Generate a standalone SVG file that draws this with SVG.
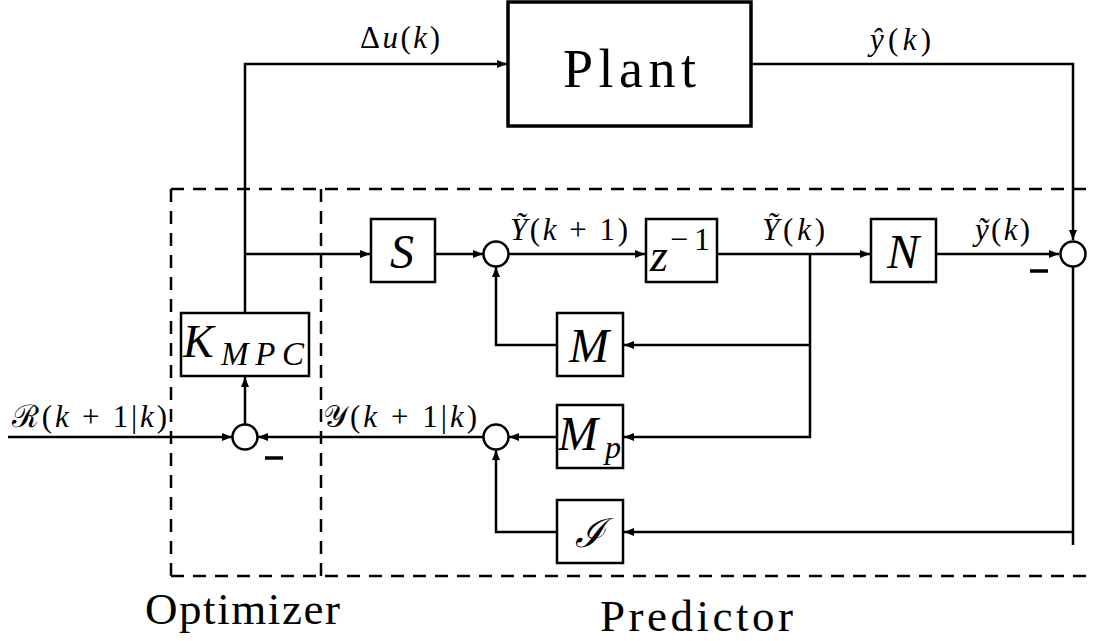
<svg xmlns="http://www.w3.org/2000/svg" width="1095" height="641" viewBox="0 0 1095 641" font-family="Liberation Serif">
<defs>
<marker id="ar" viewBox="0 0 10 8" refX="10" refY="4" markerWidth="10" markerHeight="8" markerUnits="userSpaceOnUse" orient="auto">
<path d="M0,0 L10,4 L0,8 Z" fill="#000"/>
</marker>
</defs>
<g id="frames" fill="none" stroke="#000" stroke-width="2.5" stroke-dasharray="13 9">
<line x1="171" y1="189" x2="1095" y2="189"/>
<line x1="171" y1="576" x2="1095" y2="576"/>
<line x1="171" y1="189" x2="171" y2="576"/>
<line x1="321" y1="189" x2="321" y2="576"/>
</g>
<g id="connectors" fill="none" stroke="#000" stroke-width="2.5">
<polyline points="245,313 245,64 507,64" marker-end="url(#ar)"/>
<polyline points="751,64 1073,64 1073,240" marker-end="url(#ar)"/>
<line x1="245" y1="254" x2="370" y2="254" marker-end="url(#ar)"/>
<line x1="435" y1="254" x2="483" y2="254" marker-end="url(#ar)"/>
<line x1="509" y1="254" x2="645" y2="254" marker-end="url(#ar)"/>
<line x1="717" y1="254" x2="870" y2="254" marker-end="url(#ar)"/>
<line x1="936" y1="254" x2="1059" y2="254" marker-end="url(#ar)"/>
<polyline points="810,254 810,437 624,437" marker-end="url(#ar)"/>
<line x1="810" y1="345" x2="624" y2="345" marker-end="url(#ar)"/>
<polyline points="557,345 496,345 496,267" marker-end="url(#ar)"/>
<polyline points="1073,267 1073,545"/>
<line x1="1073" y1="532" x2="624" y2="532" marker-end="url(#ar)"/>
<polyline points="557,532 496,532 496,450" marker-end="url(#ar)"/>
<line x1="557" y1="437" x2="509" y2="437" marker-end="url(#ar)"/>
<line x1="484" y1="437" x2="258" y2="437" marker-end="url(#ar)"/>
<line x1="8" y1="437" x2="232" y2="437" marker-end="url(#ar)"/>
<line x1="245" y1="424" x2="245" y2="377" marker-end="url(#ar)"/>
<line x1="1030" y1="271" x2="1048" y2="271" stroke-width="3.5"/>
<line x1="265" y1="458" x2="283" y2="458" stroke-width="3.5"/>
</g>
<g id="plant">
<rect x="508" y="2" width="243" height="124" fill="#fff" stroke="#000" stroke-width="3.5"/>
<text font-family="Liberation Serif" x="563" y="87" font-size="54" textLength="133">Plant</text>
</g>
<g id="S">
<rect x="371" y="219" width="64" height="63" fill="#fff" stroke="#000" stroke-width="2.5"/>
<text font-family="Liberation Serif" font-style="italic" x="402" y="268" font-size="48" text-anchor="middle">S</text>
</g>
<g id="sum1"><circle cx="496" cy="254" r="12.5" fill="#fff" stroke="#000" stroke-width="2.5"/></g>
<g id="zinv">
<rect x="646" y="219" width="71" height="63" fill="#fff" stroke="#000" stroke-width="2.5"/>
<text font-family="Liberation Serif" font-style="italic" x="650" y="271" font-size="46">z</text>
<text font-family="Liberation Serif" x="670" y="250" font-size="32" textLength="40">−1</text>
</g>
<g id="N">
<rect x="871" y="219" width="65" height="63" fill="#fff" stroke="#000" stroke-width="2.5"/>
<text font-family="Liberation Serif" font-style="italic" x="903" y="268" font-size="48" text-anchor="middle">N</text>
</g>
<g id="sum2"><circle cx="1073" cy="254" r="12.5" fill="#fff" stroke="#000" stroke-width="2.5"/></g>
<g id="M">
<rect x="557" y="313" width="66" height="63" fill="#fff" stroke="#000" stroke-width="2.5"/>
<text font-family="Liberation Serif" font-style="italic" x="589" y="362" font-size="48" text-anchor="middle">M</text>
</g>
<g id="Mp">
<rect x="557" y="405" width="66" height="63" fill="#fff" stroke="#000" stroke-width="2.5"/>
<text font-family="Liberation Serif" font-style="italic" x="558" y="450" font-size="48">M</text>
<text font-family="Liberation Serif" font-style="italic" x="605" y="458" font-size="32">p</text>
</g>
<g id="I">
<rect x="557" y="500" width="66" height="63" fill="#fff" stroke="#000" stroke-width="2.5"/>
<text font-family="Liberation Serif" font-style="italic" x="590" y="547" font-size="40" text-anchor="middle">ℐ</text>
</g>
<g id="KMPC">
<rect x="181" y="313" width="128" height="63" fill="#fff" stroke="#000" stroke-width="2.5"/>
<text font-family="Liberation Serif" font-style="italic" x="183" y="357" font-size="46">K</text>
<text font-family="Liberation Serif" font-style="italic" x="221" y="365" font-size="33" textLength="83">MPC</text>
</g>
<g id="sum3"><circle cx="245" cy="437" r="12.5" fill="#fff" stroke="#000" stroke-width="2.5"/></g>
<g id="sum4"><circle cx="496" cy="437" r="12.5" fill="#fff" stroke="#000" stroke-width="2.5"/></g>
<g id="labels" font-size="31">
<text font-family="Liberation Serif" x="360" y="48" textLength="80">Δ<tspan font-style="italic">u</tspan>(<tspan font-style="italic">k</tspan>)</text>
<text font-family="Liberation Serif" x="870" y="50" textLength="61"><tspan font-style="italic">ŷ</tspan>(<tspan font-style="italic">k</tspan>)</text>
<text font-family="Liberation Serif" x="510" y="240" textLength="118"><tspan font-style="italic">Ỹ</tspan>(<tspan font-style="italic">k</tspan> + 1)</text>
<text font-family="Liberation Serif" x="762" y="240" textLength="63"><tspan font-style="italic">Ỹ</tspan>(<tspan font-style="italic">k</tspan>)</text>
<text font-family="Liberation Serif" x="975" y="240" textLength="55"><tspan font-style="italic">ỹ</tspan>(<tspan font-style="italic">k</tspan>)</text>
<text font-family="Liberation Serif" x="12" y="427" textLength="155">ℛ(<tspan font-style="italic">k</tspan> + 1|<tspan font-style="italic">k</tspan>)</text>
<text font-family="Liberation Serif" x="323" y="427" textLength="154">𝒴(<tspan font-style="italic">k</tspan> + 1|<tspan font-style="italic">k</tspan>)</text>
<text font-family="Liberation Serif" x="145" y="624" font-size="45" textLength="195">Optimizer</text>
<text font-family="Liberation Serif" x="600" y="631" font-size="45" textLength="193">Predictor</text>
</g>
</svg>
